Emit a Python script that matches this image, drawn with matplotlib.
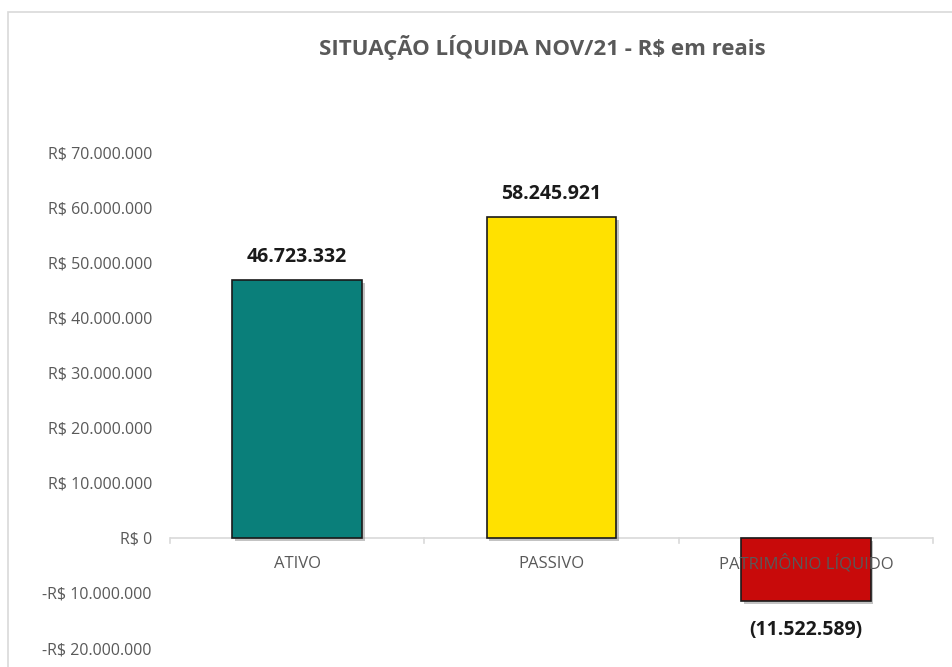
import matplotlib

matplotlib.use("Agg")
import matplotlib.pyplot as plt
import matplotlib.patheffects as pe
from matplotlib.patches import Rectangle
from matplotlib.ticker import FuncFormatter

plt.rcParams["font.family"] = ["Open Sans", "DejaVu Sans"]

categories = ["ATIVO", "PASSIVO", "PATRIMÔNIO LÍQUIDO"]
values = [46723332, 58245921, -11522589]
labels = ["46.723.332", "58.245.921", "(11.522.589)"]
colors = ["#0a7f7a", "#ffe100", "#c80a0a"]
yticks = list(range(-20000000, 70000001, 10000000))


def reais(v, _pos=None):
    s = f"{abs(v):,.0f}".replace(",", ".")
    return f"-R$ {s}" if v < 0 else f"R$ {s}"


fig = plt.figure(figsize=(9.52, 6.67), dpi=100)
fig.patches.append(Rectangle((8 / 952, -0.1), 1.1, (667 - 12) / 667 + 0.1,
                             transform=fig.transFigure, fill=False,
                             edgecolor="#d9d9d9", linewidth=1.2))

ax = fig.add_axes([170 / 952, 19 / 667, 763 / 952, 496 / 667])
x = range(len(categories))
bars = ax.bar(x, values, width=0.51, color=colors, edgecolor="#1a1a1a", linewidth=1.2, zorder=3)
for b in bars:
    b.set_path_effects([pe.SimplePatchShadow(offset=(2, -2), shadow_rgbFace="#888888", alpha=0.5), pe.Normal()])

ax.set_xlim(-0.5, 2.5)
ax.set_ylim(-20000000, 70000000)
ax.set_yticks(yticks)
ax.yaxis.set_major_formatter(FuncFormatter(reais))
ax.tick_params(axis="y", length=0, pad=13, labelsize=11.5, labelcolor="#595959")
ax.set_xticks([])
for s in ax.spines.values():
    s.set_visible(False)

ax.axhline(0, color="#d9d9d9", linewidth=1.2, zorder=2)
for xb in [-0.5, 0.5, 1.5, 2.5]:
    ax.plot([xb, xb], [0, -900000], color="#d9d9d9", linewidth=1.2, zorder=2, clip_on=False)

for i, name in enumerate(categories):
    ax.text(i, -4700000, name, ha="center", va="center", fontsize=12, color="#595959", zorder=4)

for i, (v, lab) in enumerate(zip(values, labels)):
    y = v + 4200000 if v >= 0 else v - 5300000
    ax.text(i, y, lab, ha="center", va="center", fontsize=14, fontweight="bold", color="#1a1a1a")

fig.text(542 / 952, 1 - 47 / 667, "SITUAÇÃO LÍQUIDA NOV/21 - R$ em reais",
         ha="center", va="center", fontsize=16, fontweight="bold", color="#595959")

fig.savefig("out.png", dpi=100)
